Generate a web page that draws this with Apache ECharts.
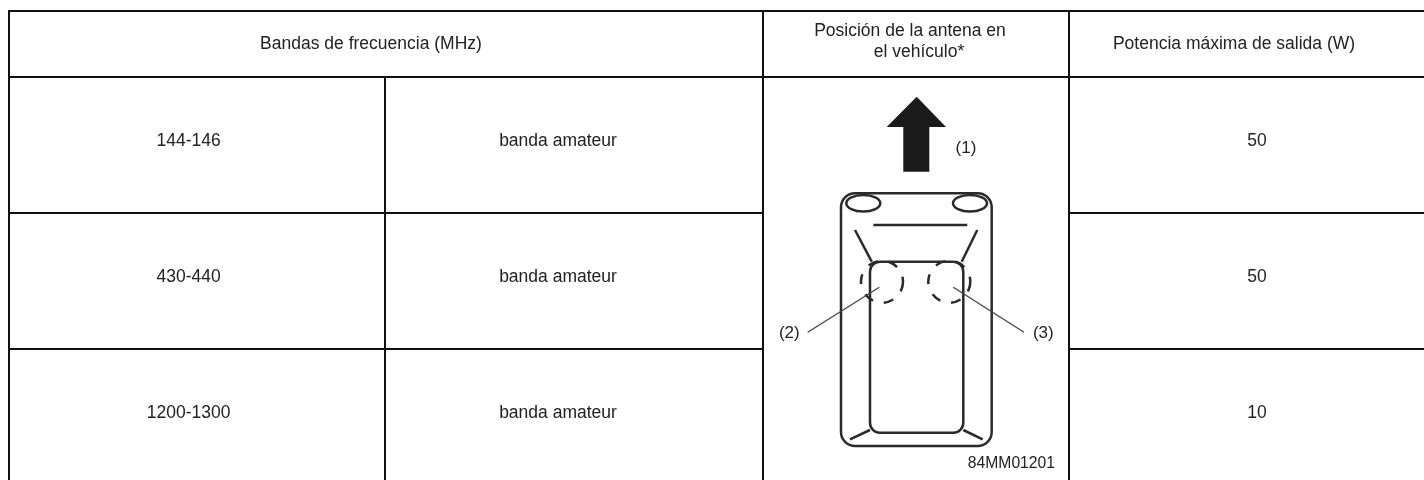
<!DOCTYPE html>
<html><head><meta charset="utf-8">
<style>html,body{margin:0;padding:0;background:#fff}#c{width:1424px;height:480px}</style>
<script src="https://cdn.jsdelivr.net/npm/echarts@6/dist/echarts.min.js"></script>
</head><body><div id="c"></div>
<script>
const headers = ["Bandas de frecuencia (MHz)", "Posición de la antena en", "el vehículo*", "Potencia máxima de salida (W)"];
const bands = ["144-146", "430-440", "1200-1300"];
const bandTypes = ["banda amateur", "banda amateur", "banda amateur"];
const powers = ["50", "50", "10"];
const calloutLabels = ["(1)", "(2)", "(3)"];
const figureCode = "84MM01201";

const rowY = [141.5, 277.5, 413];
const font = 'Arial, "Liberation Sans", sans-serif';
const ink = '#111', textInk = '#222', fig = '#2a2a2a';
const els = [];
function line(x1, y1, x2, y2, w, c, dash) {
  els.push({type:'line', shape:{x1,y1,x2,y2}, style:{stroke:c||ink, lineWidth:w||2, lineDash:dash||null}, silent:true});
}
function text(s, x, y, size, align) {
  els.push({type:'text', x, y, style:{text:s, font:(size||17.5)+'px '+font, fill:textInk, textAlign:align||'center', textVerticalAlign:'middle'}, silent:true});
}
// table rules
line(8, 11, 1424, 11);
line(9, 10, 9, 480);
line(8, 77, 1424, 77);
[213, 349].forEach(y => { line(9, y, 763, y); line(1069, y, 1424, y); });
line(385, 77, 385, 480);
[763, 1069].forEach(x => line(x, 10, x, 480));
// table text
text(headers[0], 371, 44.5);
text(headers[1], 910, 31.3);
text(headers[2], 919, 52.3);
text(headers[3], 1234, 44.5);
bands.forEach((b, i) => {
  text(b, 188.7, rowY[i]);
  text(bandTypes[i], 558, rowY[i]);
  text(powers[i], 1257, rowY[i]);
});
// vehicle figure
const lw = 2.5;
els.push({type:'polygon', shape:{points:[[916.7,96.7],[946,127],[929.3,127],[929.3,171.7],[903.3,171.7],[903.3,127],[886.7,127]]}, style:{fill:'#1a1a1a'}, silent:true});
els.push({type:'rect', shape:{x:841,y:193.3,width:150.7,height:252.7,r:14}, style:{fill:'none',stroke:fig,lineWidth:lw}, silent:true});
els.push({type:'rect', shape:{x:870,y:261.7,width:93.3,height:171,r:10}, style:{fill:'none',stroke:fig,lineWidth:lw}, silent:true});
[[863.3,203.3],[970,203.3]].forEach(p => els.push({type:'ellipse', shape:{cx:p[0],cy:p[1],rx:17,ry:8.3}, style:{fill:'none',stroke:fig,lineWidth:lw}, silent:true}));
line(873.3,225,967.3,225,lw,fig);
line(855,230,871.7,261.7,lw,fig);
line(977.3,230,961.7,261.7,lw,fig);
line(850,439.3,870,430,lw,fig);
line(963.3,430,982.7,439.3,lw,fig);
[[882,281.7],[949.3,281.7]].forEach(p => els.push({type:'circle', shape:{cx:p[0],cy:p[1],r:21}, style:{fill:'none',stroke:fig,lineWidth:lw,lineDash:[10,11]}, silent:true}));
line(807.7,332.3,879.3,287.3,1.3,'#444');
line(953.3,287.3,1024,332.3,1.3,'#444');
text(calloutLabels[0],966,148,17);
text(calloutLabels[1],789.3,333.3,17);
text(calloutLabels[2],1043.3,333.3,17);
text(figureCode,1055,463.3,15.7,'right');

const chart = echarts.init(document.getElementById('c'), null, {renderer:'canvas'});
chart.setOption({animation:false, backgroundColor:'#fff', graphic:{elements:els}});
</script></body></html>
